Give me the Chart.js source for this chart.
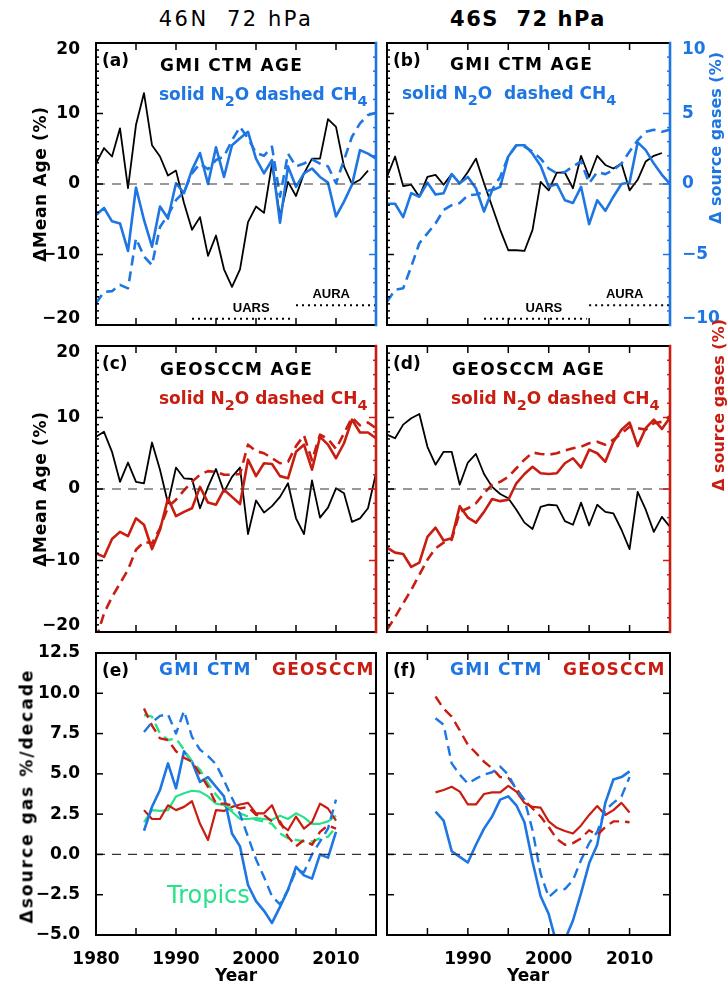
<!DOCTYPE html>
<html>
<head>
<meta charset="utf-8">
<script src="https://cdn.jsdelivr.net/npm/chart.js@4.4.1/dist/chart.umd.min.js"></script>
<style>
  body { margin: 0; background: #fff; width: 727px; height: 992px; position: relative; overflow: hidden;
         font-family: "DejaVu Sans", sans-serif; }
  canvas { position: absolute; }
  .t { position: absolute; white-space: nowrap; line-height: 1; transform: translateY(-50%);
       font-size: 17px; font-weight: bold; color: #000; }
  .t sub { font-size: 0.85em; vertical-align: -0.45em; line-height: 0; }
  .c { transform: translate(-50%, -50%); }
  .v { transform: translate(-50%, -50%) rotate(-90deg); }
  .blue { color: #1e76e2; }
  .red { color: #c81d10; }
</style>
</head>
<body>

<div class="t c" style="left:236px;top:19px;font-size:21px;font-weight:normal;letter-spacing:2.5px">46N&nbsp;&nbsp;72 hPa</div>
<div class="t c" style="left:528px;top:19px;font-size:21px;letter-spacing:1.5px">46S&nbsp;&nbsp;72 hPa</div>

<canvas id="pa" width="384" height="305" style="left:0;top:30px"></canvas>
<canvas id="pb" width="346" height="305" style="left:381px;top:30px"></canvas>
<canvas id="pc" width="384" height="305" style="left:0;top:335px"></canvas>
<canvas id="pd" width="346" height="305" style="left:381px;top:335px"></canvas>
<canvas id="pe" width="384" height="352" style="left:0;top:640px"></canvas>
<canvas id="pf" width="346" height="352" style="left:381px;top:640px"></canvas>

<!-- panel labels -->
<div class="t" style="left:102px;top:60px">(a)</div>
<div class="t" style="left:160px;top:65px;letter-spacing:1.3px">GMI CTM AGE</div>
<div class="t blue" style="left:159px;top:94px">solid N<sub>2</sub>O dashed CH<sub>4</sub></div>

<div class="t" style="left:393px;top:60px">(b)</div>
<div class="t" style="left:450px;top:64px;letter-spacing:1.3px">GMI CTM AGE</div>
<div class="t blue" style="left:402px;top:93px">solid N<sub>2</sub>O&nbsp; dashed CH<sub>4</sub></div>

<div class="t" style="left:102px;top:363px">(c)</div>
<div class="t" style="left:160px;top:369px;letter-spacing:1.3px">GEOSCCM AGE</div>
<div class="t red" style="left:159px;top:398px">solid N<sub>2</sub>O dashed CH<sub>4</sub></div>

<div class="t" style="left:393px;top:363px">(d)</div>
<div class="t" style="left:452px;top:369px;letter-spacing:1.3px">GEOSCCM AGE</div>
<div class="t red" style="left:451px;top:398px">solid N<sub>2</sub>O dashed CH<sub>4</sub></div>

<div class="t" style="left:102px;top:670px">(e)</div>
<div class="t blue" style="left:159px;top:669px;letter-spacing:1.2px">GMI CTM</div>
<div class="t red" style="left:272px;top:669px;letter-spacing:1.2px">GEOSCCM</div>
<div class="t" style="left:167px;top:895px;font-size:24px;font-weight:normal;color:#27e28a">Tropics</div>

<div class="t" style="left:393px;top:670px">(f)</div>
<div class="t blue" style="left:450px;top:669px;letter-spacing:1.2px">GMI CTM</div>
<div class="t red" style="left:563px;top:669px;letter-spacing:1.2px">GEOSCCM</div>

<!-- axis titles -->
<div class="t v" style="left:40px;top:184px;letter-spacing:0.7px">&Delta;Mean Age (%)</div>
<div class="t v" style="left:40px;top:489px;letter-spacing:0.7px">&Delta;Mean Age (%)</div>
<div class="t v" style="left:27px;top:796px;letter-spacing:2px">&Delta;source gas %/decade</div>
<div class="t v blue" style="left:716px;top:138px;font-size:16px">&Delta; source gases (%)</div>
<div class="t v red" style="left:719px;top:405px;font-size:16px">&Delta; source gases (%)</div>
<div class="t c" style="left:236px;top:975px">Year</div>
<div class="t c" style="left:528px;top:975px">Year</div>

<script>
const BLUE = '#1e76e2', RED = '#c81d10', GREEN = '#27e28a';

// years
const YEARS = [1980,1981,1982,1983,1984,1985,1986,1987,1988,1989,1990,1991,1992,1993,1994,1995,1996,1997,
  1998,1999,2000,2001,2002,2003,2004,2005,2006,2007,2008,2009,2010,2011,2012,2013,2014,2015];
const YEARS_TREND = [1986,1987,1988,1989,1990,1991,1992,1993,1994,1995,1996,1997,1998,1999,2000,2001,2002,
  2003,2004,2005,2006,2007,2008,2009,2010];

// tick labels
const X_LABELS = [1980, 1990, 2000, 2010];
const X_LABELS_F = [1990, 2000, 2010];
const AGE_TICKS = [-20, -10, 0, 10, 20];
const GAS_TICKS = [-10, -5, 0, 5, 10];
const TREND_TICKS = [-5, -2.5, 0, 2.5, 5, 7.5, 10, 12.5];

// (a) 46N GMI: mean age change (%), N2O / CH4 change (%)
const A_AGE = [2.9,5.1,3.9,7.9,-0.6,8.4,12.9,5.5,3.9,1.2,1.9,-2.7,-6.5,-4.7,-10.2,-7.3,-12.1,-14.6,-12.1,
  -5.4,-3.2,-4.1,2.9,-4.6,0.3,-1.7,1.5,3.6,3.6,9.2,8.1,2.5,0,0.6,1.9];
const A_N2O = [-2.2,-1.7,-2.65,-2.8,-4.75,-0.25,-2.55,-4.45,-1.6,-2.45,0.05,-0.65,1.0,2.2,0,2.6,0.5,2.75,3.25,
  3.7,1.8,0.75,1.7,-2.75,1.25,-0.2,0.75,1.1,0.5,0.1,-2.3,-1.25,-0.05,2.4,2.15,1.8];
const A_CH4 = [-8.45,-7.65,-7.6,-7.15,-7.4,-3.85,-5.15,-5.75,-3.05,-2.2,-1.15,-0.55,0.75,1.45,1.05,1.7,1.95,
  3.1,4.05,3.25,2.2,2.0,2.65,-0.9,2.15,1.25,1.45,1.75,1.45,1.25,0.05,1.7,3.35,4.3,4.9,5.05];

// (b) 46S GMI
const B_AGE = [1.0,3.9,-0.3,-0.1,-1.8,1.0,1.3,-0.1,1.4,0.1,1.7,3.6,0.1,-3.2,-6.5,-9.4,-9.4,-9.5,-6.5,0.3,
  -0.9,1.6,1.6,-0.6,4.0,1.0,4.0,2.7,2.2,2.9,-0.9,0.6,3.2,4.0,4.4];
const B_N2O = [-1.4,-1.4,-2.35,-0.65,-0.9,0.1,-0.75,-0.65,0.7,0.05,0.5,-0.3,-1.95,-0.45,-0.2,1.95,2.75,2.75,
  2.15,1.3,-0.2,0,-1.15,-1.35,-0.2,-2.85,-1.15,-1.9,-0.9,0,0.1,2.95,2.4,1.45,0.65,0];
const B_CH4 = [-8.35,-7.5,-7.4,-5.85,-4.2,-3.5,-2.8,-1.85,-1.5,-1.35,-0.8,-0.75,-0.55,-0.4,0.5,1.95,2.75,2.65,
  2.3,1.8,1.1,0.75,0.85,1.25,1.6,0.05,0.85,0.7,1.0,1.45,2.3,3.1,3.7,3.85,3.7,3.85];

// (c) 46N GEOSCCM
const C_AGE = [7.3,8.0,5.2,1.0,3.7,1.0,0.8,6.5,2.7,-2.0,3.0,1.5,1.4,-2.7,0.3,2.8,-0.4,1.7,3.0,-6.3,-1.6,
  -3.3,-2.4,-1.1,0.8,-4.1,-6.3,1.2,-4.0,-2.6,0.1,-0.6,-4.6,-4.1,-2.7,2.2];
const C_N2O = [-9.0,-9.5,-7.0,-6.0,-6.6,-4.1,-5.0,-8.4,-5.7,-1.3,-3.8,-3.2,-2.7,0.3,-1.9,-2.2,-0.1,-1.1,
  -2.1,4.1,1.8,3.6,3.5,1.8,1.5,5.2,6.2,2.7,7.3,6.2,4.3,6.4,9.7,7.9,7.9,7.1];
const C_CH4 = [-21.0,-17.4,-15.1,-13.2,-11.3,-8.5,-7.4,-7.6,-5.5,-2.5,-1.5,-0.2,1.0,2.0,2.5,2.4,2.0,2.0,2.1,
  6.2,5.3,5.0,4.3,3.6,3.8,6.0,7.5,4.0,7.6,7.0,5.6,7.8,10.0,8.9,9.3,8.5];

// (d) 46S GEOSCCM
const D_AGE = [7.6,7.1,9.0,9.9,10.5,5.9,3.4,5.2,5.2,0.6,3.7,4.9,2.1,0.3,-0.7,-1.3,-2.9,-4.7,-5.6,-2.5,-2.2,
  -2.3,-4.5,-5.0,-1.9,-5.1,-2.2,-3.2,-3.4,-5.7,-8.4,-0.4,-2.9,-6.0,-3.9,-5.3];
const D_N2O = [-8.2,-8.9,-9.1,-10.9,-10.3,-6.7,-5.4,-7.2,-6.9,-2.4,-4.0,-4.7,-3.2,-1.4,-1.7,-1.5,0.8,2.1,
  3.1,2.2,2.1,2.2,3.6,4.3,3.0,5.5,5.0,3.8,6.6,8.3,9.3,6.0,8.5,9.7,8.4,10.0];
const D_CH4 = [-19.7,-17.9,-16.0,-14.1,-12.0,-9.9,-8.3,-7.5,-7.1,-3.2,-2.7,-2.0,-0.6,0.6,1.0,1.7,2.9,4.1,
  5.1,4.9,4.8,5.0,5.4,5.7,5.9,6.4,6.6,6.2,6.9,7.8,8.7,8.5,8.3,9.2,9.4,10.2];

// (e) 46N trends, %/decade
const E_GMI_N2O = [1.47,2.96,4.0,5.65,4.1,6.4,5.75,4.5,4.8,4.2,3.6,1.3,0.5,-1.9,-2.9,-3.5,-4.25,-3.25,-2.2,
  -0.77,-1.3,-1.5,0,-0.2,1.4];
const E_GMI_CH4 = [7.6,8.2,8.6,8.7,7.5,8.9,7.3,6.5,6.1,5.6,4.6,3.5,2.5,1.1,-0.3,-1.4,-2.6,-3.1,-2.2,-1.0,
  -1.1,0.0,0.8,1.6,3.4];
const E_GEOS_N2O = [2.75,2.2,2.2,3.05,2.75,2.95,3.3,1.9,0.9,2.75,2.7,2.95,3.1,3.2,2.55,2.55,3.05,1.9,1.5,
  2.35,1.6,2.0,3.15,2.85,2.1];
const E_GEOS_CH4 = [9.05,8.0,7.2,7.1,6.4,6.0,5.75,5.0,4.2,3.15,3.15,3.05,2.85,2.95,2.45,2.45,2.05,2.05,1.1,
  0.5,0.9,0.6,1.4,1.8,1.6];
const E_TROP_N2O = [2.0,2.75,2.7,2.75,3.6,3.8,3.95,3.9,3.6,3.15,3.05,2.65,2.2,2.2,2.25,2.2,2.15,2.4,2.2,
  2.55,2.3,1.9,1.9,2.05,2.4];
const E_TROP_CH4 = [8.65,8.55,7.5,7.1,7.2,6.5,5.75,5.25,4.4,3.7,3.15,2.75,2.55,2.35,2.15,2.05,1.9,1.3,1.0,
  0.9,0.8,0.8,1.0,1.1,1.7];

// (f) 46S trends, %/decade
const F_GMI_N2O = [2.65,2.1,0.2,-0.15,-0.5,0.6,1.6,2.35,3.4,3.6,3.05,2.0,-0.45,-2.6,-3.7,-5.6,-5.3,-4.1,
  -2.4,-0.55,0.6,3.2,4.65,4.8,5.15];
const F_GMI_CH4 = [8.45,8.05,5.65,4.95,4.4,4.7,4.95,5.1,5.45,4.95,4.0,3.4,1.5,-1.2,-2.65,-2.2,-2.15,-1.6,
  -0.35,0.7,1.4,2.75,3.2,3.6,4.8];
const F_GEOS_N2O = [3.85,4.0,4.2,3.9,3.1,3.1,3.75,3.85,3.85,4.25,3.9,3.2,2.95,2.9,2.05,1.65,1.45,1.3,1.8,
  2.45,3.0,2.45,2.75,3.2,2.6];
const F_GEOS_CH4 = [9.8,9.05,8.55,7.7,6.8,6.3,5.75,5.35,4.8,4.75,4.1,3.35,2.85,2.35,1.7,0.95,0.6,0.7,1.0,
  1.5,1.2,1.7,2.05,2.05,2.0];

// satellite periods (start, end year)
const UARS = [1992, 2004.7];
const AURA = [2005, 2015];

Chart.defaults.font.family = '"DejaVu Sans", sans-serif';
Chart.defaults.font.size = 17;
Chart.defaults.font.weight = 'bold';
Chart.defaults.color = '#000';

const pts = (xs, ys) => ys.map((v, i) => ({ x: xs[i], y: v }));
const fmtInt = v => String(v).replace('-', '\u2212');
const fmtDec = v => v.toFixed(1).replace('-', '\u2212');
// end labels sit a little inside the frame, as in the original: pad them with an empty line
const inset = fmt => (v, i, arr) => i === 0 ? [fmt(v), ''] : i === arr.length - 1 ? ['', fmt(v)] : fmt(v);

function line(data, color, width, dash, axis) {
  return { data, borderColor: color, borderWidth: width, borderDash: dash || [], yAxisID: axis || 'y',
    pointRadius: 0, tension: 0, fill: false, borderJoinStyle: 'round' };
}
const zero = () => line(pts([1980, 2015], [0, 0]), '#333', 1.2, [9, 7]);

// keep tick labels from shrinking the plot area; the layout padding already leaves room
function noOverflow(s) { s.paddingTop = 0; s.paddingBottom = 0; s.paddingLeft = 0; s.paddingRight = 0; }

function xAxis(labels) {
  return {
    type: 'linear', min: 1980, max: 2015, display: !!labels,
    grid: { display: false }, border: { display: false },
    afterBuildTicks: s => { s.ticks = (labels || X_LABELS).map(v => ({ value: v })); },
    ticks: { padding: 6, maxRotation: 0, autoSkip: false, callback: v => String(v) },
    afterFit: s => { s.height = labels ? 57 : 0; noOverflow(s); }
  };
}
function yAxis(pos, min, max, labels, fmt, show, color, width, pad) {
  return {
    type: 'linear', position: pos, min, max, display: show,
    grid: { display: false }, border: { display: false },
    afterBuildTicks: s => { s.ticks = labels.map(v => ({ value: v })); },
    ticks: { padding: pad || 8, color: color || '#000', callback: fmt, font: { lineHeight: 0.8 } },
    afterFit: s => { s.width = show ? width : 0; noOverflow(s); }
  };
}

// inward IDL style ticks and frame, drawn from the chart's scales
const idlFrame = {
  id: 'idlFrame',
  afterDatasetsDraw(chart, args, o) {
    const { ctx, chartArea: a } = chart;
    const sx = chart.scales.x, sy = chart.scales.y, sr = chart.scales[o.rightAxis] || sy;
    const seg = (x1, y1, x2, y2) => { ctx.beginPath(); ctx.moveTo(x1, y1); ctx.lineTo(x2, y2); ctx.stroke(); };
    ctx.save();
    ctx.lineCap = 'butt';
    ctx.strokeStyle = '#000';
    ctx.lineWidth = 1.5;
    [1985, 1990, 1995, 2000, 2005, 2010].forEach(v => {
      const p = sx.getPixelForValue(v);
      seg(p, a.bottom, p, a.bottom - 7);
      seg(p, a.top, p, a.top + 7);
    });
    (o.leftMinor || []).forEach(v => { const p = sy.getPixelForValue(v); seg(a.left, p, a.left + 3, p); });
    (o.leftMajor || []).forEach(v => { const p = sy.getPixelForValue(v); seg(a.left, p, a.left + 7, p); });
    ctx.strokeStyle = o.rightColor || '#000';
    (o.rightMinor || []).forEach(v => { const p = sr.getPixelForValue(v); seg(a.right, p, a.right - 3, p); });
    (o.rightMajor || []).forEach(v => { const p = sr.getPixelForValue(v); seg(a.right, p, a.right - 7, p); });
    ctx.lineCap = 'square';
    ctx.lineWidth = 2;
    ctx.strokeStyle = '#000';
    seg(a.left, a.top, a.right, a.top);
    seg(a.left, a.bottom, a.right, a.bottom);
    seg(a.left, a.top, a.left, a.bottom);
    ctx.strokeStyle = o.rightColor || '#000';
    ctx.lineWidth = o.rightColor ? 2.6 : 2;
    seg(a.right, a.top, a.right, a.bottom);
    ctx.restore();
  }
};

const notes = {
  id: 'notes',
  afterDatasetsDraw(chart, args, o) {
    if (!o.items) return;
    const { ctx } = chart;
    ctx.save();
    ctx.font = 'bold 13px "Liberation Sans", sans-serif';
    ctx.fillStyle = '#000';
    ctx.textAlign = 'center';
    ctx.textBaseline = 'middle';
    o.items.forEach(n => ctx.fillText(n.text, chart.scales.x.getPixelForValue(n.x), chart.scales.y.getPixelForValue(n.y)));
    ctx.restore();
  }
};

const AGE_MINOR = [];
for (let v = -19; v <= 19; v++) if (v % 10) AGE_MINOR.push(v);
const GAS_MINOR = [];
for (let v = -9; v <= 9; v++) if (v % 5) GAS_MINOR.push(v);
const RED_MINOR = [];
for (let v = -18; v <= 18; v += 2) if (v % 10) RED_MINOR.push(v);

function satBars() {
  return [
    line(pts(UARS, [-19.1, -19.1]), '#000', 2, [2, 4]),
    line(pts(AURA, [-17.2, -17.2]), '#000', 2, [2, 4])
  ];
}
const SAT_NOTES = [{ text: 'UARS', x: 1999.4, y: -17.6 }, { text: 'AURA', x: 2009.4, y: -15.7 }];

function make(id, datasets, scales, padding, frame, noteItems) {
  new Chart(document.getElementById(id), {
    type: 'line',
    data: { datasets },
    options: {
      responsive: false, animation: false, devicePixelRatio: 1,
      layout: { padding },
      scales,
      plugins: { legend: { display: false }, tooltip: { enabled: false }, idlFrame: frame, notes: { items: noteItems } }
    },
    plugins: [idlFrame, notes]
  });
}

// (a)
make('pa', [
  zero(), ...satBars(),
  line(pts(YEARS, A_CH4), BLUE, 2.6, [10, 6], 'y2'),
  line(pts(YEARS, A_N2O), BLUE, 2.6, [], 'y2'),
  line(pts(YEARS, A_AGE), '#000', 1.8)
], {
  x: xAxis(null),
  y: yAxis('left', -20, 20, AGE_TICKS, inset(fmtInt), true, '#000', 96),
  y2: yAxis('right', -10, 10, GAS_TICKS, fmtInt, false, BLUE, 0)
}, { left: 0, right: 8, top: 13, bottom: 10 },
{ leftMajor: AGE_TICKS, leftMinor: AGE_MINOR, rightAxis: 'y2', rightColor: BLUE, rightMajor: GAS_TICKS, rightMinor: GAS_MINOR },
SAT_NOTES);

// (b)
make('pb', [
  zero(), ...satBars(),
  line(pts(YEARS, B_CH4), BLUE, 2.6, [10, 6], 'y2'),
  line(pts(YEARS, B_N2O), BLUE, 2.6, [], 'y2'),
  line(pts(YEARS, B_AGE), '#000', 1.8)
], {
  x: xAxis(null),
  y: yAxis('left', -20, 20, AGE_TICKS, fmtInt, false, '#000', 0),
  y2: yAxis('right', -10, 10, GAS_TICKS, inset(fmtInt), true, BLUE, 57, 4)
}, { left: 6, right: 0, top: 13, bottom: 10 },
{ leftMajor: AGE_TICKS, leftMinor: AGE_MINOR, rightAxis: 'y2', rightColor: BLUE, rightMajor: GAS_TICKS, rightMinor: GAS_MINOR },
SAT_NOTES);

// (c)
make('pc', [
  zero(),
  line(pts(YEARS, C_CH4), RED, 2.6, [10, 6], 'y2'),
  line(pts(YEARS, C_N2O), RED, 2.6, [], 'y2'),
  line(pts(YEARS, C_AGE), '#000', 1.8)
], {
  x: xAxis(null),
  y: yAxis('left', -20, 20, AGE_TICKS, inset(fmtInt), true, '#000', 96),
  y2: yAxis('right', -20, 20, AGE_TICKS, fmtInt, false, RED, 0)
}, { left: 0, right: 8, top: 11, bottom: 8 },
{ leftMajor: AGE_TICKS, leftMinor: AGE_MINOR, rightAxis: 'y2', rightColor: RED, rightMajor: AGE_TICKS, rightMinor: RED_MINOR });

// (d)
make('pd', [
  zero(),
  line(pts(YEARS, D_CH4), RED, 2.6, [10, 6], 'y2'),
  line(pts(YEARS, D_N2O), RED, 2.6, [], 'y2'),
  line(pts(YEARS, D_AGE), '#000', 1.8)
], {
  x: xAxis(null),
  y: yAxis('left', -20, 20, AGE_TICKS, fmtInt, false, '#000', 0),
  y2: yAxis('right', -20, 20, AGE_TICKS, fmtInt, false, RED, 0)
}, { left: 6, right: 57, top: 11, bottom: 8 },
{ leftMajor: AGE_TICKS, leftMinor: AGE_MINOR, rightAxis: 'y2', rightColor: RED, rightMajor: AGE_TICKS, rightMinor: RED_MINOR });

// (e)
make('pe', [
  zero(),
  line(pts(YEARS_TREND, E_GMI_CH4), BLUE, 2.4, [10, 6]),
  line(pts(YEARS_TREND, E_GEOS_CH4), RED, 2.4, [10, 6]),
  line(pts(YEARS_TREND, E_TROP_CH4), GREEN, 2.4, [10, 6]),
  line(pts(YEARS_TREND, E_GMI_N2O), BLUE, 2.6),
  line(pts(YEARS_TREND, E_GEOS_N2O), RED, 2.2),
  line(pts(YEARS_TREND, E_TROP_N2O), GREEN, 2.2)
], {
  x: xAxis(X_LABELS),
  y: yAxis('left', -5, 12.5, TREND_TICKS, fmtDec, true, '#000', 96)
}, { left: 0, right: 8, top: 13, bottom: 0 },
{ leftMajor: TREND_TICKS, rightMajor: TREND_TICKS });

// (f)
make('pf', [
  zero(),
  line(pts(YEARS_TREND, F_GMI_CH4), BLUE, 2.4, [10, 6]),
  line(pts(YEARS_TREND, F_GEOS_CH4), RED, 2.4, [10, 6]),
  line(pts(YEARS_TREND, F_GMI_N2O), BLUE, 2.6),
  line(pts(YEARS_TREND, F_GEOS_N2O), RED, 2.2)
], {
  x: xAxis(X_LABELS_F),
  y: yAxis('left', -5, 12.5, TREND_TICKS, fmtDec, false, '#000', 0)
}, { left: 6, right: 57, top: 13, bottom: 0 },
{ leftMajor: TREND_TICKS, rightMajor: TREND_TICKS });
</script>
</body>
</html>
